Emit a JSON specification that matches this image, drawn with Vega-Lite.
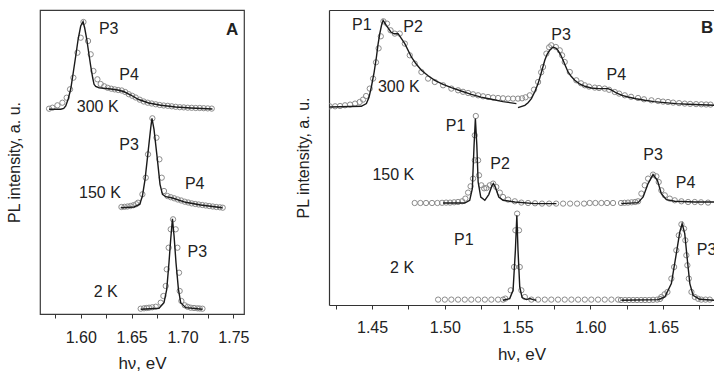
{
  "$schema": "https://vega.github.io/schema/vega-lite/v6.json",
  "autosize": {"type": "pad"},
  "padding": {"left": 5, "top": 3, "right": 0, "bottom": 0},
  "spacing": 45,
  "config": {
    "font": "Liberation Sans",
    "axis": {"grid": false, "titleFontWeight": "normal", "titleColor": "#222", "labelColor": "#222", "domainColor": "#333", "tickColor": "#333"},
    "text": {"font": "Liberation Sans", "fontSize": 16, "color": "#222"}
  },
  "datasets": {
    "A_pts": [
      {"x":1.5689,"y":205.3},{"x":1.5722,"y":206.3},{"x":1.5771,"y":208.7},{"x":1.5820,"y":211.3},{"x":1.5862,"y":216.3},{"x":1.5895,"y":224.7},{"x":1.5928,"y":236.3},{"x":1.5968,"y":261.3},{"x":1.6000,"y":276.3},{"x":1.6027,"y":292},{"x":1.6072,"y":273},{"x":1.6098,"y":259.7},{"x":1.6125,"y":243},{"x":1.6164,"y":234.7},{"x":1.6196,"y":230},{"x":1.6231,"y":227.7},{"x":1.6265,"y":226.2},{"x":1.6300,"y":225.3},{"x":1.6334,"y":224.6},{"x":1.6368,"y":224},{"x":1.6403,"y":223.5},{"x":1.6437,"y":222},{"x":1.6472,"y":219.8},{"x":1.6506,"y":218.2},{"x":1.6540,"y":216.5},{"x":1.6580,"y":214.3},{"x":1.6619,"y":212.5},{"x":1.6658,"y":211.3},{"x":1.6697,"y":210.5},{"x":1.6737,"y":209.7},{"x":1.6776,"y":209},{"x":1.6815,"y":208.5},{"x":1.6855,"y":208.2},{"x":1.6894,"y":207.7},{"x":1.6933,"y":207.2},{"x":1.6973,"y":206.8},{"x":1.7012,"y":206.6},{"x":1.7051,"y":206.3},{"x":1.7090,"y":206.2},{"x":1.7130,"y":206},{"x":1.7169,"y":206},{"x":1.7208,"y":205.8},{"x":1.7248,"y":205.6},{"x":1.7287,"y":205.4},
      {"x":1.6400,"y":107},{"x":1.6430,"y":107.2},{"x":1.6459,"y":107.5},{"x":1.6489,"y":108},{"x":1.6518,"y":108.8},{"x":1.6545,"y":109.8},{"x":1.6563,"y":111.3},{"x":1.6606,"y":119.7},{"x":1.6639,"y":136.3},{"x":1.6661,"y":159.7},{"x":1.6704,"y":195.7},{"x":1.6744,"y":176.3},{"x":1.6773,"y":154.7},{"x":1.6796,"y":136.3},{"x":1.6818,"y":123},{"x":1.6852,"y":118},{"x":1.6884,"y":116.8},{"x":1.6918,"y":115.7},{"x":1.6953,"y":114.5},{"x":1.6987,"y":113.5},{"x":1.7022,"y":112.3},{"x":1.7056,"y":111.5},{"x":1.7090,"y":110.6},{"x":1.7125,"y":110},{"x":1.7159,"y":109.5},{"x":1.7194,"y":109},{"x":1.7228,"y":108.5},{"x":1.7262,"y":108},{"x":1.7297,"y":107.5},{"x":1.7332,"y":107},{"x":1.7367,"y":106.7},{"x":1.7395,"y":106.3},
      {"x":1.6589,"y":5.3},{"x":1.6622,"y":5.7},{"x":1.6648,"y":6},{"x":1.6671,"y":6.3},{"x":1.6702,"y":6.7},{"x":1.6737,"y":7.3},{"x":1.6786,"y":11.3},{"x":1.6812,"y":18},{"x":1.6835,"y":28},{"x":1.6845,"y":44.7},{"x":1.6864,"y":66.3},{"x":1.6884,"y":84.7},{"x":1.6907,"y":94.7},{"x":1.6933,"y":84.7},{"x":1.6950,"y":66.3},{"x":1.6966,"y":41.3},{"x":1.6972,"y":23},{"x":1.6989,"y":13},{"x":1.7022,"y":8.7},{"x":1.7051,"y":7.2},{"x":1.7081,"y":6.3},{"x":1.7113,"y":6},{"x":1.7146,"y":5.7},{"x":1.7169,"y":5.5},{"x":1.7196,"y":5.3}
    ],
    "A_fit": [
      {"s":"300K","x":1.5689,"y":204.7},{"s":"300K","x":1.5804,"y":204.7},{"s":"300K","x":1.5833,"y":205.5},{"s":"300K","x":1.5853,"y":208},{"s":"300K","x":1.5877,"y":215},{"s":"300K","x":1.5902,"y":225},{"s":"300K","x":1.5926,"y":241},{"s":"300K","x":1.5951,"y":258},{"s":"300K","x":1.5975,"y":275},{"s":"300K","x":1.6000,"y":288},{"s":"300K","x":1.6023,"y":292.3},{"s":"300K","x":1.6039,"y":286},{"s":"300K","x":1.6059,"y":275},{"s":"300K","x":1.6079,"y":261},{"s":"300K","x":1.6098,"y":248},{"s":"300K","x":1.6118,"y":236},{"s":"300K","x":1.6131,"y":229.7},{"s":"300K","x":1.6147,"y":227.5},{"s":"300K","x":1.6180,"y":226.3},{"s":"300K","x":1.6226,"y":225.7},{"s":"300K","x":1.6295,"y":225},{"s":"300K","x":1.6363,"y":224},{"s":"300K","x":1.6422,"y":222.5},{"s":"300K","x":1.6491,"y":219},{"s":"300K","x":1.6570,"y":214.5},{"s":"300K","x":1.6668,"y":211},{"s":"300K","x":1.6786,"y":208.7},{"s":"300K","x":1.6933,"y":207},{"s":"300K","x":1.7081,"y":206},{"s":"300K","x":1.7294,"y":205},
      {"s":"150K","x":1.6393,"y":106.3},{"s":"150K","x":1.6524,"y":107},{"s":"150K","x":1.6580,"y":109.7},{"s":"150K","x":1.6606,"y":118},{"s":"150K","x":1.6632,"y":134.7},{"s":"150K","x":1.6661,"y":161.3},{"s":"150K","x":1.6688,"y":186.3},{"s":"150K","x":1.6700,"y":195.7},{"s":"150K","x":1.6720,"y":184.7},{"s":"150K","x":1.6753,"y":154.7},{"s":"150K","x":1.6779,"y":129.7},{"s":"150K","x":1.6803,"y":119.7},{"s":"150K","x":1.6835,"y":117.3},{"s":"150K","x":1.6901,"y":116},{"s":"150K","x":1.7031,"y":111.7},{"s":"150K","x":1.7179,"y":109},{"s":"150K","x":1.7392,"y":106.3},
      {"s":"2K","x":1.6589,"y":4.7},{"s":"2K","x":1.6769,"y":5.7},{"s":"2K","x":1.6818,"y":11.3},{"s":"2K","x":1.6845,"y":24.7},{"s":"2K","x":1.6867,"y":51.3},{"s":"2K","x":1.6884,"y":74.7},{"s":"2K","x":1.6901,"y":95.3},{"s":"2K","x":1.6917,"y":78},{"s":"2K","x":1.6936,"y":51.3},{"s":"2K","x":1.6960,"y":24.7},{"s":"2K","x":1.6982,"y":11.3},{"s":"2K","x":1.7031,"y":6.3},{"s":"2K","x":1.7196,"y":4.7}
    ],
    "A_lab": [
      {"k":"peak","t":"P3","x":1.6275,"y":285.5},{"k":"peak","t":"P4","x":1.6475,"y":239},{"k":"peak","t":"300 K","x":1.6167,"y":207.2},
      {"k":"peak","t":"P3","x":1.6475,"y":169},{"k":"peak","t":"150 K","x":1.6189,"y":121.3},{"k":"peak","t":"P4","x":1.7120,"y":130.5},
      {"k":"peak","t":"P3","x":1.7146,"y":61.7},{"k":"peak","t":"2 K","x":1.6246,"y":21.7},
      {"k":"panel","t":"A","x":1.7488,"y":284}
    ],
    "B_pts": [
      {"x":1.4209,"y":198.7},{"x":1.4246,"y":198.7},{"x":1.4280,"y":199.0},{"x":1.4314,"y":199.7},{"x":1.4349,"y":200.4},{"x":1.4383,"y":201.4},{"x":1.4415,"y":203.0},{"x":1.4438,"y":205.4},{"x":1.4459,"y":209.0},{"x":1.4484,"y":216.4},{"x":1.4507,"y":226.4},{"x":1.4527,"y":242.7},{"x":1.4545,"y":256.7},{"x":1.4560,"y":268.7},{"x":1.4578,"y":283.7},{"x":1.4603,"y":281.4},{"x":1.4627,"y":274.7},{"x":1.4656,"y":271.4},{"x":1.4690,"y":271.4},{"x":1.4725,"y":261.4},{"x":1.4759,"y":249.7},{"x":1.4793,"y":241.4},{"x":1.4839,"y":233.0},{"x":1.4885,"y":226.4},{"x":1.4931,"y":223.0},{"x":1.4988,"y":219.7},{"x":1.5045,"y":216.4},{"x":1.5091,"y":214.7},{"x":1.5125,"y":213.2},{"x":1.5160,"y":212.0},{"x":1.5194,"y":210.7},{"x":1.5229,"y":209.7},{"x":1.5263,"y":208.7},{"x":1.5297,"y":208.0},{"x":1.5332,"y":207.4},{"x":1.5366,"y":207.0},{"x":1.5400,"y":206.7},{"x":1.5435,"y":206.4},{"x":1.5469,"y":206.4},{"x":1.5503,"y":206.4},{"x":1.5531,"y":206.7},{"x":1.5555,"y":207.7},{"x":1.5584,"y":209.7},{"x":1.5613,"y":215.4},{"x":1.5641,"y":223.0},{"x":1.5662,"y":232.7},{"x":1.5675,"y":238.0},{"x":1.5698,"y":251.4},{"x":1.5717,"y":257.7},{"x":1.5732,"y":259.7},{"x":1.5763,"y":258.0},{"x":1.5790,"y":254.7},{"x":1.5806,"y":249.7},{"x":1.5824,"y":243.0},{"x":1.5859,"y":233.0},{"x":1.5904,"y":224.7},{"x":1.5936,"y":221.7},{"x":1.5962,"y":219.7},{"x":1.5991,"y":218.4},{"x":1.6031,"y":217.4},{"x":1.6060,"y":217.0},{"x":1.6099,"y":216.4},{"x":1.6129,"y":215.2},{"x":1.6168,"y":213.0},{"x":1.6198,"y":211.4},{"x":1.6237,"y":209.7},{"x":1.6280,"y":208.2},{"x":1.6328,"y":207.0},{"x":1.6369,"y":205.7},{"x":1.6420,"y":204.7},{"x":1.6466,"y":204.0},{"x":1.6500,"y":203.4},{"x":1.6534,"y":203.0},{"x":1.6569,"y":202.4},{"x":1.6610,"y":201.9},{"x":1.6649,"y":201.4},{"x":1.6686,"y":201.1},{"x":1.6727,"y":200.9},{"x":1.6763,"y":200.7},{"x":1.6796,"y":200.5},{"x":1.6826,"y":200.4},
      {"x":1.4793,"y":102.0},{"x":1.4832,"y":102.0},{"x":1.4871,"y":102.0},{"x":1.4912,"y":102.0},{"x":1.4949,"y":102.0},{"x":1.4981,"y":102.2},{"x":1.5009,"y":102.4},{"x":1.5036,"y":102.4},{"x":1.5064,"y":102.7},{"x":1.5091,"y":103.0},{"x":1.5119,"y":103.7},{"x":1.5141,"y":106.4},{"x":1.5160,"y":112.4},{"x":1.5177,"y":118.7},{"x":1.5194,"y":126.4},{"x":1.5206,"y":144.7},{"x":1.5206,"y":169.7},{"x":1.5213,"y":189.0},{"x":1.5229,"y":144.7},{"x":1.5235,"y":129.7},{"x":1.5251,"y":119.7},{"x":1.5270,"y":116.7},{"x":1.5286,"y":117.0},{"x":1.5309,"y":119.7},{"x":1.5332,"y":121.4},{"x":1.5354,"y":118.0},{"x":1.5378,"y":112.4},{"x":1.5400,"y":108.0},{"x":1.5435,"y":105.4},{"x":1.5481,"y":103.7},{"x":1.5526,"y":102.4},{"x":1.5572,"y":102.0},{"x":1.5620,"y":101.7},{"x":1.5668,"y":101.4},{"x":1.5717,"y":101.4},{"x":1.5765,"y":101.4},{"x":1.5813,"y":101.4},{"x":1.5861,"y":101.4},{"x":1.5909,"y":101.4},{"x":1.5957,"y":101.4},{"x":1.5996,"y":102.0},{"x":1.6035,"y":102.0},{"x":1.6076,"y":102.0},{"x":1.6115,"y":102.0},{"x":1.6156,"y":102.0},
      {"x":1.6211,"y":102.0},{"x":1.6235,"y":102.2},{"x":1.6259,"y":102.4},{"x":1.6284,"y":102.7},{"x":1.6308,"y":103.0},{"x":1.6328,"y":103.7},{"x":1.6351,"y":111.4},{"x":1.6374,"y":119.7},{"x":1.6397,"y":126.4},{"x":1.6431,"y":130.4},{"x":1.6454,"y":128.7},{"x":1.6470,"y":123.0},{"x":1.6488,"y":114.7},{"x":1.6512,"y":109.7},{"x":1.6546,"y":106.4},{"x":1.6580,"y":104.7},{"x":1.6626,"y":103.7},{"x":1.6672,"y":103.0},{"x":1.6718,"y":103.0},{"x":1.6761,"y":102.7},{"x":1.6809,"y":102.4},
      {"x":1.4954,"y":5.4},{"x":1.5000,"y":5.4},{"x":1.5045,"y":5.4},{"x":1.5091,"y":5.4},{"x":1.5137,"y":5.4},{"x":1.5182,"y":5.4},{"x":1.5229,"y":5.4},{"x":1.5275,"y":5.4},{"x":1.5320,"y":5.4},{"x":1.5366,"y":5.4},{"x":1.5400,"y":5.4},{"x":1.5416,"y":6.4},{"x":1.5453,"y":14.7},{"x":1.5476,"y":38.0},{"x":1.5485,"y":74.7},{"x":1.5497,"y":91.4},{"x":1.5510,"y":74.7},{"x":1.5515,"y":38.0},{"x":1.5526,"y":14.7},{"x":1.5550,"y":8.0},{"x":1.5595,"y":5.4},{"x":1.5641,"y":5.4},{"x":1.5687,"y":5.4},{"x":1.5732,"y":5.4},{"x":1.5778,"y":5.4},{"x":1.5824,"y":5.4},{"x":1.5870,"y":5.4},{"x":1.5916,"y":5.4},{"x":1.5962,"y":5.4},{"x":1.6007,"y":5.4},{"x":1.6053,"y":5.4},{"x":1.6099,"y":5.4},{"x":1.6145,"y":5.4},{"x":1.6191,"y":5.4},
      {"x":1.6211,"y":5.0},{"x":1.6239,"y":5.0},{"x":1.6266,"y":5.0},{"x":1.6294,"y":5.0},{"x":1.6321,"y":5.0},{"x":1.6349,"y":5.0},{"x":1.6376,"y":5.0},{"x":1.6404,"y":5.0},{"x":1.6431,"y":5.2},{"x":1.6459,"y":5.4},{"x":1.6479,"y":6.0},{"x":1.6488,"y":8.0},{"x":1.6510,"y":10.7},{"x":1.6530,"y":13.0},{"x":1.6557,"y":26.4},{"x":1.6576,"y":38.0},{"x":1.6591,"y":54.7},{"x":1.6608,"y":69.7},{"x":1.6626,"y":80.7},{"x":1.6644,"y":76.4},{"x":1.6653,"y":64.7},{"x":1.6660,"y":49.7},{"x":1.6667,"y":39.7},{"x":1.6677,"y":26.4},{"x":1.6695,"y":13.0},{"x":1.6718,"y":8.0},{"x":1.6741,"y":6.2},{"x":1.6763,"y":5.4},{"x":1.6792,"y":5.4},{"x":1.6821,"y":5.4}
    ],
    "B_fit": [
      {"s":"300a","x":1.4209,"y":198.0},{"s":"300a","x":1.4426,"y":198.7},{"s":"300a","x":1.4461,"y":201.4},{"s":"300a","x":1.4479,"y":207.7},{"s":"300a","x":1.4495,"y":218.0},{"s":"300a","x":1.4514,"y":232.7},{"s":"300a","x":1.4530,"y":248.0},{"s":"300a","x":1.4541,"y":260.7},{"s":"300a","x":1.4553,"y":271.4},{"s":"300a","x":1.4565,"y":279.7},{"s":"300a","x":1.4576,"y":284.7},{"s":"300a","x":1.4598,"y":279.7},{"s":"300a","x":1.4629,"y":273.0},{"s":"300a","x":1.4651,"y":271.2},{"s":"300a","x":1.4679,"y":271.4},{"s":"300a","x":1.4725,"y":261.4},{"s":"300a","x":1.4770,"y":248.0},{"s":"300a","x":1.4802,"y":241.2},{"s":"300a","x":1.4839,"y":234.7},{"s":"300a","x":1.4885,"y":229.2},{"s":"300a","x":1.4931,"y":224.7},{"s":"300a","x":1.4988,"y":220.7},{"s":"300a","x":1.5045,"y":217.4},{"s":"300a","x":1.5112,"y":214.0},{"s":"300a","x":1.5182,"y":210.7},{"s":"300a","x":1.5249,"y":207.9},{"s":"300a","x":1.5320,"y":205.7},{"s":"300a","x":1.5400,"y":203.4},{"s":"300a","x":1.5492,"y":201.4},
      {"s":"300b","x":1.5503,"y":197.4},{"s":"300b","x":1.5550,"y":199.7},{"s":"300b","x":1.5572,"y":202.2},{"s":"300b","x":1.5595,"y":206.4},{"s":"300b","x":1.5620,"y":213.7},{"s":"300b","x":1.5641,"y":221.4},{"s":"300b","x":1.5664,"y":232.7},{"s":"300b","x":1.5687,"y":244.7},{"s":"300b","x":1.5703,"y":250.7},{"s":"300b","x":1.5721,"y":254.7},{"s":"300b","x":1.5744,"y":258.0},{"s":"300b","x":1.5765,"y":256.7},{"s":"300b","x":1.5778,"y":254.7},{"s":"300b","x":1.5796,"y":250.2},{"s":"300b","x":1.5813,"y":244.7},{"s":"300b","x":1.5830,"y":238.7},{"s":"300b","x":1.5847,"y":233.0},{"s":"300b","x":1.5868,"y":228.7},{"s":"300b","x":1.5893,"y":224.7},{"s":"300b","x":1.5923,"y":221.4},{"s":"300b","x":1.5962,"y":218.7},{"s":"300b","x":1.6005,"y":217.0},{"s":"300b","x":1.6053,"y":216.4},{"s":"300b","x":1.6122,"y":216.4},{"s":"300b","x":1.6150,"y":214.7},{"s":"300b","x":1.6179,"y":212.0},{"s":"300b","x":1.6218,"y":209.7},{"s":"300b","x":1.6259,"y":208.0},{"s":"300b","x":1.6314,"y":206.2},{"s":"300b","x":1.6374,"y":204.7},{"s":"300b","x":1.6438,"y":203.4},{"s":"300b","x":1.6512,"y":202.4},{"s":"300b","x":1.6589,"y":201.4},{"s":"300b","x":1.6672,"y":200.7},{"s":"300b","x":1.6761,"y":200.2},{"s":"300b","x":1.6855,"y":199.7},
      {"s":"150a","x":1.4988,"y":102.0},{"s":"150a","x":1.5137,"y":102.0},{"s":"150a","x":1.5171,"y":104.7},{"s":"150a","x":1.5189,"y":116.4},{"s":"150a","x":1.5201,"y":159.7},{"s":"150a","x":1.5210,"y":186.4},{"s":"150a","x":1.5220,"y":159.7},{"s":"150a","x":1.5229,"y":123.0},{"s":"150a","x":1.5247,"y":108.0},{"s":"150a","x":1.5275,"y":104.7},{"s":"150a","x":1.5302,"y":110.4},{"s":"150a","x":1.5325,"y":119.7},{"s":"150a","x":1.5334,"y":121.4},{"s":"150a","x":1.5347,"y":118.0},{"s":"150a","x":1.5371,"y":108.0},{"s":"150a","x":1.5400,"y":104.7},{"s":"150a","x":1.5481,"y":103.0},{"s":"150a","x":1.5618,"y":101.4},{"s":"150a","x":1.5767,"y":101.4},
      {"s":"150b","x":1.6213,"y":101.4},{"s":"150b","x":1.6328,"y":102.4},{"s":"150b","x":1.6363,"y":108.0},{"s":"150b","x":1.6397,"y":121.4},{"s":"150b","x":1.6431,"y":130.4},{"s":"150b","x":1.6461,"y":124.7},{"s":"150b","x":1.6488,"y":111.4},{"s":"150b","x":1.6523,"y":105.4},{"s":"150b","x":1.6580,"y":103.7},{"s":"150b","x":1.6718,"y":103.0},{"s":"150b","x":1.6855,"y":103.0},
      {"s":"2a","x":1.5400,"y":4.7},{"s":"2a","x":1.5446,"y":6.4},{"s":"2a","x":1.5469,"y":14.7},{"s":"2a","x":1.5485,"y":54.7},{"s":"2a","x":1.5495,"y":89.7},{"s":"2a","x":1.5503,"y":54.7},{"s":"2a","x":1.5515,"y":18.0},{"s":"2a","x":1.5531,"y":7.4},{"s":"2a","x":1.5561,"y":5.4},{"s":"2a","x":1.5584,"y":6.4},{"s":"2a","x":1.5607,"y":5.4},{"s":"2a","x":1.5629,"y":4.7},
      {"s":"2b","x":1.6213,"y":4.7},{"s":"2b","x":1.6466,"y":5.4},{"s":"2b","x":1.6512,"y":8.0},{"s":"2b","x":1.6557,"y":21.4},{"s":"2b","x":1.6591,"y":51.4},{"s":"2b","x":1.6615,"y":73.0},{"s":"2b","x":1.6631,"y":81.4},{"s":"2b","x":1.6649,"y":71.4},{"s":"2b","x":1.6667,"y":44.7},{"s":"2b","x":1.6684,"y":21.4},{"s":"2b","x":1.6706,"y":9.7},{"s":"2b","x":1.6752,"y":5.7},{"s":"2b","x":1.6855,"y":4.7}
    ],
    "B_lab": [
      {"k":"peak","t":"P1","x":1.4430,"y":280.5},{"k":"peak","t":"P2","x":1.4782,"y":278.4},{"k":"peak","t":"P3","x":1.5799,"y":270.5},{"k":"peak","t":"P4","x":1.6179,"y":230.5},{"k":"peak","t":"300 K","x":1.4684,"y":218.0},
      {"k":"peak","t":"P1","x":1.5074,"y":178.9},{"k":"peak","t":"P2","x":1.5380,"y":141.2},{"k":"peak","t":"150 K","x":1.4646,"y":130.5},{"k":"peak","t":"P3","x":1.6431,"y":150.5},{"k":"peak","t":"P4","x":1.6655,"y":122.2},
      {"k":"peak","t":"P1","x":1.5131,"y":64.7},{"k":"peak","t":"2 K","x":1.4706,"y":37.2},{"k":"peak","t":"P3","x":1.6799,"y":54.7},
      {"k":"panel","t":"B","x":1.6802,"y":277.2}
    ]
  },
  "hconcat": [
    {
      "width": 204,
      "height": 304,
      "view": {"stroke": "#3a3a3a", "strokeWidth": 1.2},
      "encoding": {
        "x": {"field": "x", "type": "quantitative",
          "scale": {"domain": [1.56, 1.7604], "nice": false, "zero": false},
          "axis": {"title": "hν, eV", "values": [1.575, 1.6, 1.625, 1.65, 1.675, 1.7, 1.725, 1.75],
            "labelExpr": "abs(datum.value*20 - round(datum.value*20)) < 0.001 ? format(datum.value, '.2f') : ''",
            "domain": false, "ticks": true, "tickSize": 4, "labelFontSize": 16, "labelPadding": 11,
            "labelFlush": false, "labelOverlap": false, "titleFontSize": 17, "titlePadding": 10}},
        "y": {"field": "y", "type": "quantitative",
          "scale": {"domain": [0, 304], "nice": false, "zero": false},
          "axis": {"title": "PL intensity, a. u.", "domain": false, "ticks": false, "labels": false, "titleFontSize": 16, "titlePadding": 18}}
      },
      "layer": [
        {"data": {"name": "A_pts"}, "mark": {"type": "point", "shape": "circle", "filled": false, "size": 28, "stroke": "#8c8c8c", "strokeWidth": 1, "opacity": 1}},
        {"data": {"name": "A_fit"}, "mark": {"type": "line", "stroke": "#1a1a1a", "strokeWidth": 1.4}, "encoding": {"detail": {"field": "s"}}},
        {"data": {"name": "A_lab"}, "transform": [{"filter": "datum.k == 'peak'"}], "mark": {"type": "text", "align": "center", "baseline": "middle", "fontSize": 16}, "encoding": {"text": {"field": "t"}}},
        {"data": {"name": "A_lab"}, "transform": [{"filter": "datum.k == 'panel'"}], "mark": {"type": "text", "align": "center", "baseline": "middle", "fontSize": 17, "fontWeight": "bold"}, "encoding": {"text": {"field": "t"}}}
      ]
    },
    {
      "width": 385,
      "height": 295,
      "view": {"stroke": null},
      "encoding": {
        "y": {"field": "y", "type": "quantitative",
          "scale": {"domain": [0, 295], "nice": false, "zero": false},
          "axis": {"title": "PL intensity, a. u.", "domain": true, "domainWidth": 1.2, "ticks": false, "labels": false, "titleFontSize": 16, "titlePadding": 18}}
      },
      "resolve": {"axis": {"x": "independent"}},
      "layer": [
        {"data": {"name": "B_pts"}, "mark": {"type": "point", "shape": "circle", "filled": false, "size": 28, "stroke": "#8c8c8c", "strokeWidth": 1, "opacity": 1, "clip": true},
          "encoding": {"x": {"field": "x", "type": "quantitative",
            "scale": {"domain": [1.4204, 1.6850], "nice": false, "zero": false},
            "axis": {"orient": "bottom", "title": "hν, eV", "values": [1.425, 1.45, 1.475, 1.5, 1.525, 1.55, 1.575, 1.6, 1.625, 1.65, 1.675],
              "labelExpr": "abs(datum.value*20 - round(datum.value*20)) < 0.001 ? format(datum.value, '.2f') : ''",
              "domain": true, "domainWidth": 1.2, "ticks": true, "tickSize": 4, "labelFontSize": 16, "labelPadding": 10,
              "labelFlush": false, "labelOverlap": false, "titleFontSize": 17, "titlePadding": 11}}}},
        {"data": {"name": "B_fit"}, "mark": {"type": "line", "stroke": "#1a1a1a", "strokeWidth": 1.4, "clip": true},
          "encoding": {"detail": {"field": "s"},
            "x": {"field": "x", "type": "quantitative", "axis": {"orient": "top", "title": null, "labels": false, "domain": true, "domainWidth": 1.2, "ticks": true, "tickSize": 6, "tickColor": "white", "values": [1.45]}}}},
        {"data": {"name": "B_lab"}, "transform": [{"filter": "datum.k == 'peak'"}], "mark": {"type": "text", "align": "center", "baseline": "middle", "fontSize": 16, "clip": true},
          "encoding": {"text": {"field": "t"}, "x": {"field": "x", "type": "quantitative", "axis": null}}},
        {"data": {"name": "B_lab"}, "transform": [{"filter": "datum.k == 'panel'"}], "mark": {"type": "text", "align": "center", "baseline": "middle", "fontSize": 17, "fontWeight": "bold", "clip": true},
          "encoding": {"text": {"field": "t"}, "x": {"field": "x", "type": "quantitative", "axis": null}}}
      ]
    }
  ]
}
